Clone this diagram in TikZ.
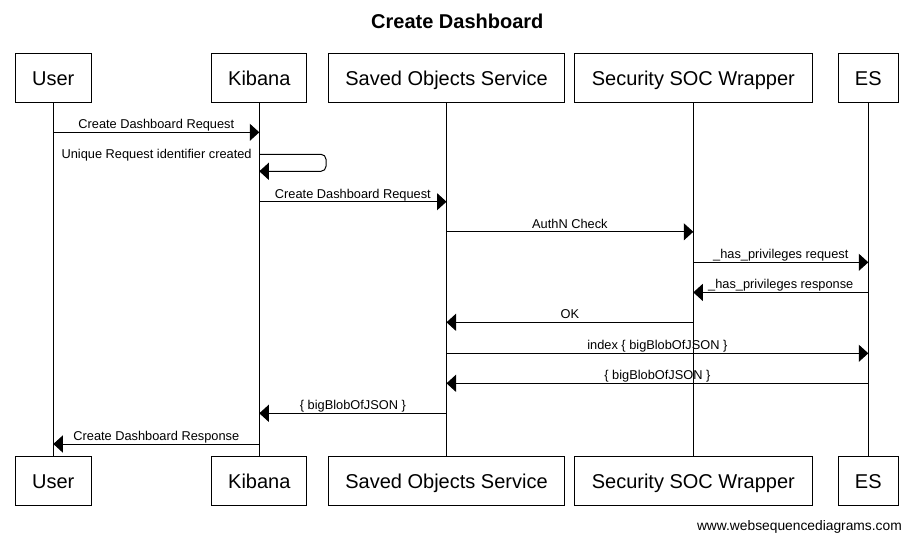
\documentclass[tikz,border=0pt]{standalone}
\usepackage{fontspec}
\setmainfont{Liberation Sans}
\usetikzlibrary{arrows.meta}
\begin{document}
\begin{tikzpicture}[x=1pt,y=-1pt,
  pbox/.style={draw, line width=1pt, minimum height=49pt, inner sep=0pt,
    text height=14.4pt, text depth=0pt, font=\fontsize{20}{24}\selectfont},
  msg/.style={line width=1pt, -{Triangle[length=9.5pt,width=17pt]}},
  lbl/.style={font=\fontsize{12.8}{15}\selectfont, inner sep=0pt},
  life/.style={line width=1pt}]
\useasboundingbox (0,0) rectangle (913,541);
\node[font=\bfseries\fontsize{20}{24}\selectfont, anchor=base, inner sep=0pt] (title) at (457.3,28.3) {Create Dashboard};
% top participants
\node[pbox, minimum width=76pt]    (userT) at (53.3,77.8)  {User};
\node[pbox, minimum width=95pt]    (kibT)  at (259.3,77.8) {Kibana};
\node[pbox, minimum width=236pt]   (sosT)  at (446.5,77.8) {Saved Objects Service};
\node[pbox, minimum width=237.5pt] (socT)  at (693.3,77.8) {Security SOC Wrapper};
\node[pbox, minimum width=60pt]    (esT)   at (868.3,77.8) {ES};
% bottom participants
\node[pbox, minimum width=76pt]    (userB) at (53.3,481.2)  {User};
\node[pbox, minimum width=95pt]    (kibB)  at (259.3,481.2) {Kibana};
\node[pbox, minimum width=236pt]   (sosB)  at (446.5,481.2) {Saved Objects Service};
\node[pbox, minimum width=237.5pt] (socB)  at (693.3,481.2) {Security SOC Wrapper};
\node[pbox, minimum width=60pt]    (esB)   at (868.3,481.2) {ES};
% lifelines
\draw[life] (userT) -- (userB);
\draw[life] (kibT) -- (kibB);
\draw[life] (sosT) -- (sosB);
\draw[life] (socT) -- (socB);
\draw[life] (esT) -- (esB);
% message rows
\coordinate (y1) at (0,132.3);
\coordinate (s1) at (0,154.3);
\coordinate (s2) at (0,171.3);
\coordinate (y3) at (0,201.7);
\coordinate (y4) at (0,231.8);
\coordinate (y5) at (0,262.3);
\coordinate (y6) at (0,292.4);
\coordinate (y7) at (0,322.3);
\coordinate (y8) at (0,353.3);
\coordinate (y9) at (0,383.3);
\coordinate (y10) at (0,413.3);
\coordinate (y11) at (0,444.0);
\tikzset{ml/.style={lbl, pos=0.5, anchor=base, yshift=3.5pt}}
\draw[msg] (userT |- y1) -- node[ml] {Create Dashboard Request} (kibT |- y1);
\draw[msg, rounded corners=5pt] (kibT |- s1) -- ++(66.7,0) -- ++(0,17) -- (kibT |- s2);
\node[lbl, anchor=base east] (selflbl) at ([xshift=-7.5pt, yshift=-4pt]kibT |- s1) {Unique Request identifier created};
\draw[msg] (kibT |- y3) -- node[ml] {Create Dashboard Request} (sosT |- y3);
\draw[msg] (sosT |- y4) -- node[ml] {AuthN Check} (socT |- y4);
\draw[msg] (socT |- y5) -- node[ml] {\_has\_privileges request} (esT |- y5);
\draw[msg] (esT |- y6) -- node[ml] {\_has\_privileges response} (socT |- y6);
\draw[msg] (socT |- y7) -- node[ml] {OK} (sosT |- y7);
\draw[msg] (sosT |- y8) -- node[ml] {index \{ bigBlobOfJSON \}} (esT |- y8);
\draw[msg] (esT |- y9) -- node[ml] {\{ bigBlobOfJSON \}} (sosT |- y9);
\draw[msg] (sosT |- y10) -- node[ml] {\{ bigBlobOfJSON \}} (kibT |- y10);
\draw[msg] (kibT |- y11) -- node[ml] {Create Dashboard Response} (userT |- y11);
\node[font=\fontsize{13.8}{16}\selectfont, anchor=base east, inner sep=0pt] (footer) at (902,530) {www.websequencediagrams.com};
\end{tikzpicture}
\end{document}
